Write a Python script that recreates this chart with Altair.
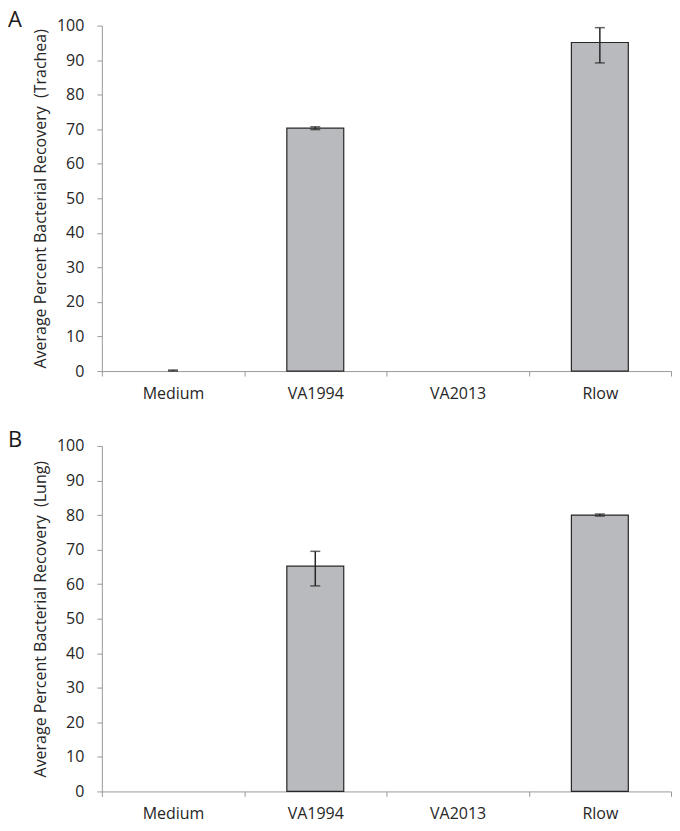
import altair as alt
import pandas as pd

categories = ["Medium", "VA1994", "VA2013", "Rlow"]

trachea_mean = [0.0, 70.3, 0.0, 95.1]
trachea_lo = [0.0, 69.9, 0.0, 89.2]
trachea_hi = [0.3, 70.7, 0.0, 99.4]

lung_mean = [0.0, 65.2, 0.0, 80.0]
lung_lo = [0.0, 59.5, 0.0, 79.7]
lung_hi = [0.0, 69.5, 0.0, 80.3]

y_ticks = [0, 10, 20, 30, 40, 50, 60, 70, 80, 90, 100]

FONT = "Open Sans"
AXIS_GRAY = "#9a9a9a"
BAR_FILL = "#b9babe"
DARK = "#262626"
W, H = 570, 346


def panel(mean, lo, hi, letter, title):
    df = pd.DataFrame({"cat": categories, "mean": mean, "lo": lo, "hi": hi})
    xscale = alt.Scale(domain=categories, paddingInner=0, paddingOuter=0)
    xaxis = alt.Axis(
        title=None,
        labelAngle=0,
        tickBand="extent",
        domainColor=AXIS_GRAY,
        tickColor=AXIS_GRAY,
        tickSize=5,
        tickWidth=1,
        ticks=True,
        labelFont=FONT,
        labelFontSize=16,
        labelColor="#262626",
        labelPadding=9,
    )
    yscale = alt.Scale(domain=[0, 100], nice=False)
    yaxis = alt.Axis(
        title=title,
        values=y_ticks,
        tickCount=11,
        labelOverlap=False,
        grid=False,
        domainColor=AXIS_GRAY,
        tickColor=AXIS_GRAY,
        tickSize=5,
        labelFont=FONT,
        labelFontSize=16,
        labelColor="#262626",
        labelPadding=13,
        titleFont=FONT,
        titleFontSize=16,
        titleFontWeight="normal",
        titleColor="#262626",
        titlePadding=8,
    )
    xenc = alt.X("cat:N", scale=xscale, axis=xaxis)
    base = alt.Chart(df)
    bars = base.transform_filter("datum.mean > 0").mark_bar(
        width={"band": 0.4}, fill=BAR_FILL, stroke=DARK, strokeWidth=1.2
    ).encode(x=xenc, y=alt.Y("mean:Q", scale=yscale, axis=yaxis))
    errs = base.transform_filter("datum.hi > 0")
    rule = errs.mark_rule(color=DARK, strokeWidth=1.5).encode(
        x=xenc, y=alt.Y("lo:Q", scale=yscale, axis=yaxis), y2="hi:Q"
    )
    cap_hi = errs.mark_tick(color=DARK, size=10, thickness=1.5, orient="horizontal").encode(
        x=xenc, y=alt.Y("hi:Q", scale=yscale, axis=yaxis)
    )
    cap_lo = errs.mark_tick(color=DARK, size=10, thickness=1.5, orient="horizontal").encode(
        x=xenc, y=alt.Y("lo:Q", scale=yscale, axis=yaxis)
    )
    lab = alt.Chart(pd.DataFrame({"t": [letter]})).mark_text(
        font=FONT, fontSize=22, align="left", baseline="alphabetic", color="#1a1a1a"
    ).encode(text="t:N", x=alt.value(-94), y=alt.value(1))
    return alt.layer(bars, rule, cap_hi, cap_lo, lab).properties(width=W, height=H)


top = panel(trachea_mean, trachea_lo, trachea_hi, "A",
            "Average Percent Bacterial Recovery \u00a0(Trachea)")
bottom = panel(lung_mean, lung_lo, lung_hi, "B",
               "Average Percent Bacterial Recovery \u00a0(Lung)")

chart = alt.vconcat(top, bottom, spacing=28).configure_view(stroke=None).properties(
    background="white", padding={"left": 0, "top": 0, "right": 0, "bottom": 0}
)

chart.save("out.html", embed_options={"renderer": "svg", "actions": False})
